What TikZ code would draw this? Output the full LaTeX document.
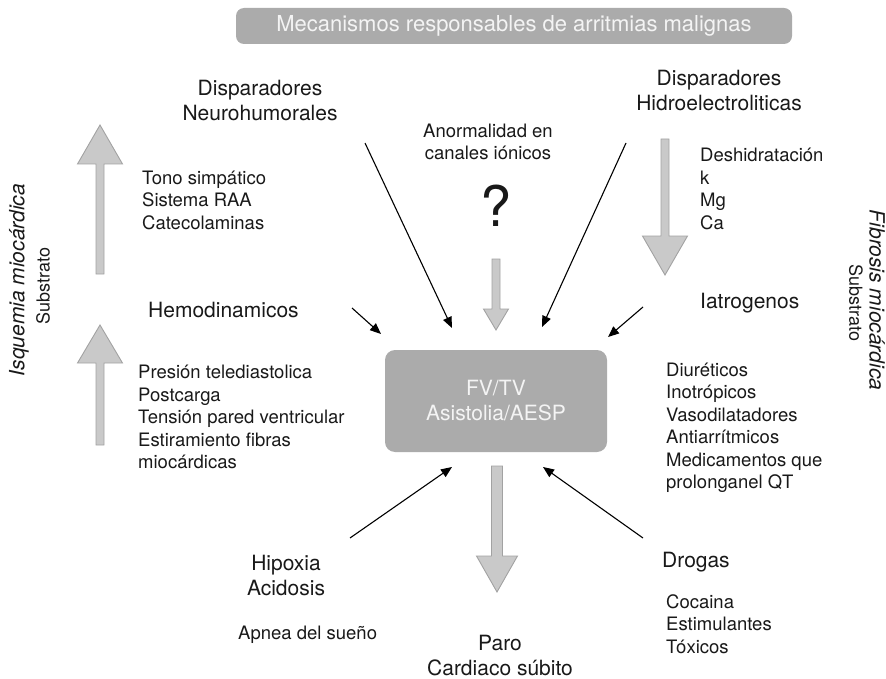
\documentclass[tikz,border=0pt]{standalone}
\usepackage{fontspec}
\setmainfont{TeX Gyre Heros}
\usetikzlibrary{arrows.meta, positioning}
\definecolor{panelgray}{HTML}{ABABAB}
\definecolor{fatgray}{HTML}{C9C9C9}
\definecolor{fatedge}{HTML}{A2A2A2}
\definecolor{lighttext}{HTML}{F4F4F4}

\begin{document}
\begin{tikzpicture}[x=1pt, y=-1pt,
    bigtext/.style={font=\fontsize{21}{25}\selectfont, align=center, inner sep=0pt, text=black!90},
    listtext/.style={font=\fontsize{18.5}{22.5}\selectfont, align=left, inner sep=0pt, anchor=west, text=black!90},
    sidetext/.style={font=\fontsize{21}{25}\selectfont\itshape, inner sep=0pt, text=black!90},
    subtext/.style={font=\fontsize{18}{22}\selectfont, inner sep=0pt, text=black!90},
    panel/.style={fill=panelgray, draw=none, text=lighttext, align=center},
    fatarrow/.style={fill=fatgray, draw=fatedge, line width=0.9pt, line join=miter},
    trigger/.style={draw=black, line width=1.1pt, -{Triangle[length=11pt, width=9pt]}}
]
\useasboundingbox (0,0) rectangle (886,679);

% Title
\node[panel, rounded corners=8pt, minimum width=556pt, minimum height=36pt,
      font=\fontsize{22}{26}\selectfont] (title) at (514,26) {Mecanismos responsables de arritmias malignas};

% Central box
\node[panel, rounded corners=10pt, minimum width=222pt, minimum height=102pt,
      font=\fontsize{21}{25}\selectfont] (fvtv) at (496,401) {FV/TV\\Asistolia/AESP};

% Triggers and substrate labels
\node[bigtext] (neuro) at (260,101) {Disparadores\\Neurohumorales};
\node[bigtext] (hidro) at (719,91) {Disparadores\\Hidroelectroliticas};
\node[font=\fontsize{18.5}{22.5}\selectfont, align=center, inner sep=0pt, text=black!90] (canales) at (488,142) {Anormalidad en\\canales iónicos};
\node[font=\fontsize{56}{60}\selectfont, inner sep=0pt, text=black!90] (question) at (496,206) {?};
\node[listtext] (tono) at (142,200) {Tono simpático\\Sistema RAA\\Catecolaminas};
\node[bigtext, anchor=west] (hemo) at (148,310) {Hemodinamicos};
\node[listtext] (presion) at (138,417) {Presión telediastolica\\Postcarga\\Tensión pared ventricular\\Estiramiento fibras\\miocárdicas};
\node[listtext] (electro) at (700,189) {Deshidratación\\k\\Mg\\Ca};
\node[bigtext, anchor=west] (iatro) at (700,303) {Iatrogenos};
\node[listtext] (farmacos) at (666,428) {Diuréticos\\Inotrópicos\\Vasodilatadores\\Antiarrítmicos\\Medicamentos que\\prolonganel QT};
\node[bigtext] (hipoxia) at (286,575) {Hipoxia\\Acidosis};
\node[listtext] (apnea) at (238,635) {Apnea del sueño};
\node[bigtext] (paro) at (500,656) {Paro\\Cardiaco súbito};
\node[bigtext, anchor=west] (drogas) at (662,562) {Drogas};
\node[listtext] (toxicos) at (666,624) {Cocaina\\Estimulantes\\Tóxicos};

% Side labels
\node[sidetext, rotate=90] (isquemia) at (19,280) {Isquemia miocárdica};
\node[subtext, rotate=90] (subleft) at (43,286) {Substrato};
\node[sidetext, rotate=-90] (fibrosis) at (877,300) {Fibrosis miocárdica};
\node[subtext, rotate=-90] (subright) at (856,303) {Substrato};

% Arrow ends
\coordinate (neuroout) at (365,143);
\coordinate (neuroin) at (452,328);
\coordinate (hidroout) at (626,143);
\coordinate (hidroin) at (542,327);
\coordinate (hemoout) at (352,308);
\coordinate (hemoin) at (381,334);
\coordinate (iatroout) at (643,307);
\coordinate (iatroin) at (608,337);
\coordinate (hipoout) at (350,538);
\coordinate (hipoin) at (452,467);
\coordinate (drogout) at (643,538);
\coordinate (drogin) at (543,467);

% Black connectors
\draw[trigger] (neuroout) -- (neuroin);
\draw[trigger] (hidroout) -- (hidroin);
\draw[trigger] (hemoout) -- (hemoin);
\draw[trigger] (iatroout) -- (iatroin);
\draw[trigger] (hipoout) -- (hipoin);
\draw[trigger] (drogout) -- (drogin);

% Gray block arrows
\draw[fatarrow] (492,259) -- (500,259) -- (500,309) -- (508.5,309) -- (496,330) -- (483.5,309) -- (492,309) -- cycle;
\draw[fatarrow] (491.5,466) -- (502.5,466) -- (502.5,556) -- (517.5,556) -- (497,592) -- (476.5,556) -- (491.5,556) -- cycle;
\draw[fatarrow] (96,274) -- (104,274) -- (104,164) -- (122.5,164) -- (100,125) -- (77.5,164) -- (96,164) -- cycle;
\draw[fatarrow] (96,445) -- (104,445) -- (104,363) -- (122.5,363) -- (100,325) -- (77.5,363) -- (96,363) -- cycle;
\draw[fatarrow] (661,139) -- (669,139) -- (669,236) -- (687.5,236) -- (665,275) -- (642.5,236) -- (661,236) -- cycle;

\end{tikzpicture}
\end{document}
